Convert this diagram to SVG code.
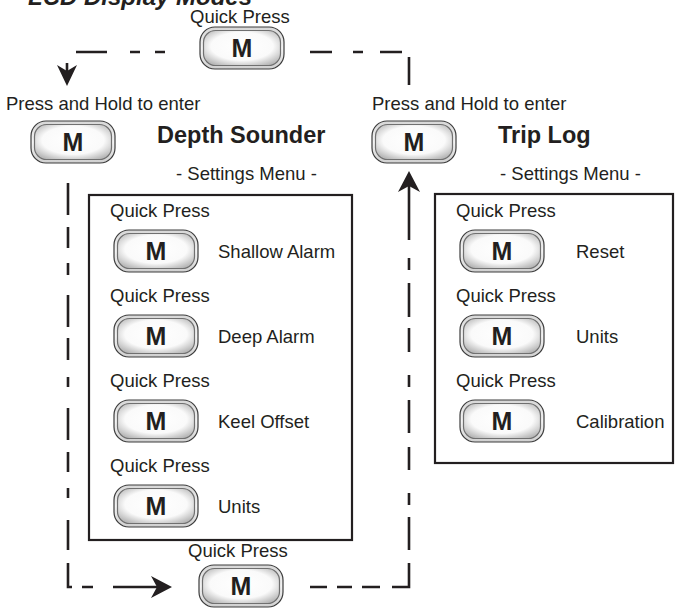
<svg xmlns="http://www.w3.org/2000/svg" xmlns:xlink="http://www.w3.org/1999/xlink" width="679" height="608" viewBox="0 0 679 608">
  <style>
    text { font-family: "Liberation Sans", Arial, sans-serif; fill: #231f20; }
    .lbl { font-size: 18.5px; }
    .head { font-size: 23.5px; font-weight: bold; }
    .title { font-size: 24px; font-weight: bold; font-style: italic; }
    .key { font-size: 25px; font-weight: bold; text-anchor: middle; }
    .box { fill: none; stroke: #231f20; stroke-width: 2.2; }
    .dash { fill: none; stroke: #231f20; stroke-width: 2.6; }
    .head-arrow { fill: #231f20; }
  </style>
  <defs>
    <radialGradient id="keyFace" cx="50%" cy="45%" r="62%">
      <stop offset="0" stop-color="#ffffff"/>
      <stop offset="0.65" stop-color="#fafafa"/>
      <stop offset="1" stop-color="#b9b9b9"/>
    </radialGradient>
    <linearGradient id="keyRim" x1="0" y1="0" x2="0" y2="1">
      <stop offset="0" stop-color="#d6d6d6"/>
      <stop offset="0.5" stop-color="#f4f4f4"/>
      <stop offset="1" stop-color="#cfcfcf"/>
    </linearGradient>
    <!-- "M" key, drawn around its own centre -->
    <g id="m-key">
      <rect x="-42" y="-21" width="84" height="42" rx="15" fill="url(#keyRim)" stroke="#3c3c3c" stroke-width="1.2"/>
      <rect x="-38.5" y="-17.5" width="77" height="35" rx="12" fill="url(#keyFace)" stroke="#707070" stroke-width="1.2"/>
      <text class="key" y="9">M</text>
    </g>
  </defs>

  <rect width="679" height="608" fill="#ffffff"/>

  <text class="title" x="28" y="5">LCD Display Modes</text>

  <!-- mode cycle connectors -->
  <g id="connectors">
    <!-- top: key to Depth Sounder entry -->
    <path class="dash" d="M165 52H155 M140 52H130 M107 52H76 M67 63V72"/>
    <polygon class="head-arrow" points="67,86 57,65 67,71 77,65"/>
    <!-- top: key to Trip Log entry -->
    <path class="dash" d="M310 52H332 M353 52H363 M380 52H402 M409 57V85"/>
    <!-- left side down to bottom key -->
    <path class="dash" d="M68 183V215 M68 227V248 M68 263V275 M68 295V327 M68 338V360 M68 377V387 M68 408V440 M68 452V472 M68 488V498 M68 520V550 M68 563V587H72 M82 587H93 M113 587H145 M145 587H158"/>
    <polygon class="head-arrow" points="172,587 151,576 157,587 151,598"/>
    <!-- bottom key back up to Trip Log entry -->
    <path class="dash" d="M310 587H327 M337 587H352 M362 587H380 M392 587H409V563 M409 550V517 M409 505V493 M409 470V447 M409 433V400 M409 387V375 M409 352V328 M409 317V283 M409 270V258 M409 240V186"/>
    <polygon class="head-arrow" points="409,171 420,192 409,186 398,192"/>
  </g>

  <!-- top quick-press key -->
  <g id="top-key">
    <text class="lbl" x="190" y="23">Quick Press</text>
    <use xlink:href="#m-key" transform="translate(242,48)"/>
  </g>

  <!-- Depth Sounder entry -->
  <g id="depth-entry">
    <text class="lbl" x="6" y="110">Press and Hold to enter</text>
    <use xlink:href="#m-key" transform="translate(73,142)"/>
    <text class="head" x="157" y="143">Depth Sounder</text>
    <text class="lbl" x="176" y="180">- Settings Menu -</text>
  </g>

  <!-- Depth Sounder settings menu -->
  <g id="depth-menu">
    <rect class="box" x="89" y="195" width="263" height="345"/>
    <text class="lbl" x="110" y="217">Quick Press</text>
    <use xlink:href="#m-key" transform="translate(156,251)"/>
    <text class="lbl" x="218" y="258">Shallow Alarm</text>
    <text class="lbl" x="110" y="302">Quick Press</text>
    <use xlink:href="#m-key" transform="translate(156,336)"/>
    <text class="lbl" x="218" y="343">Deep Alarm</text>
    <text class="lbl" x="110" y="387">Quick Press</text>
    <use xlink:href="#m-key" transform="translate(156,421)"/>
    <text class="lbl" x="218" y="428">Keel Offset</text>
    <text class="lbl" x="110" y="472">Quick Press</text>
    <use xlink:href="#m-key" transform="translate(156,506)"/>
    <text class="lbl" x="218" y="513">Units</text>
  </g>

  <!-- Trip Log entry -->
  <g id="trip-entry">
    <text class="lbl" x="372" y="110">Press and Hold to enter</text>
    <use xlink:href="#m-key" transform="translate(414,142)"/>
    <text class="head" x="498" y="143">Trip Log</text>
    <text class="lbl" x="500" y="180">- Settings Menu -</text>
  </g>

  <!-- Trip Log settings menu -->
  <g id="trip-menu">
    <rect class="box" x="435" y="194" width="238" height="269"/>
    <text class="lbl" x="456" y="217">Quick Press</text>
    <use xlink:href="#m-key" transform="translate(502,251)"/>
    <text class="lbl" x="576" y="258">Reset</text>
    <text class="lbl" x="456" y="302">Quick Press</text>
    <use xlink:href="#m-key" transform="translate(502,336)"/>
    <text class="lbl" x="576" y="343">Units</text>
    <text class="lbl" x="456" y="387">Quick Press</text>
    <use xlink:href="#m-key" transform="translate(502,421)"/>
    <text class="lbl" x="576" y="428">Calibration</text>
  </g>

  <!-- bottom quick-press key -->
  <g id="bottom-key">
    <text class="lbl" x="188" y="557">Quick Press</text>
    <use xlink:href="#m-key" transform="translate(241,586)"/>
  </g>
</svg>
